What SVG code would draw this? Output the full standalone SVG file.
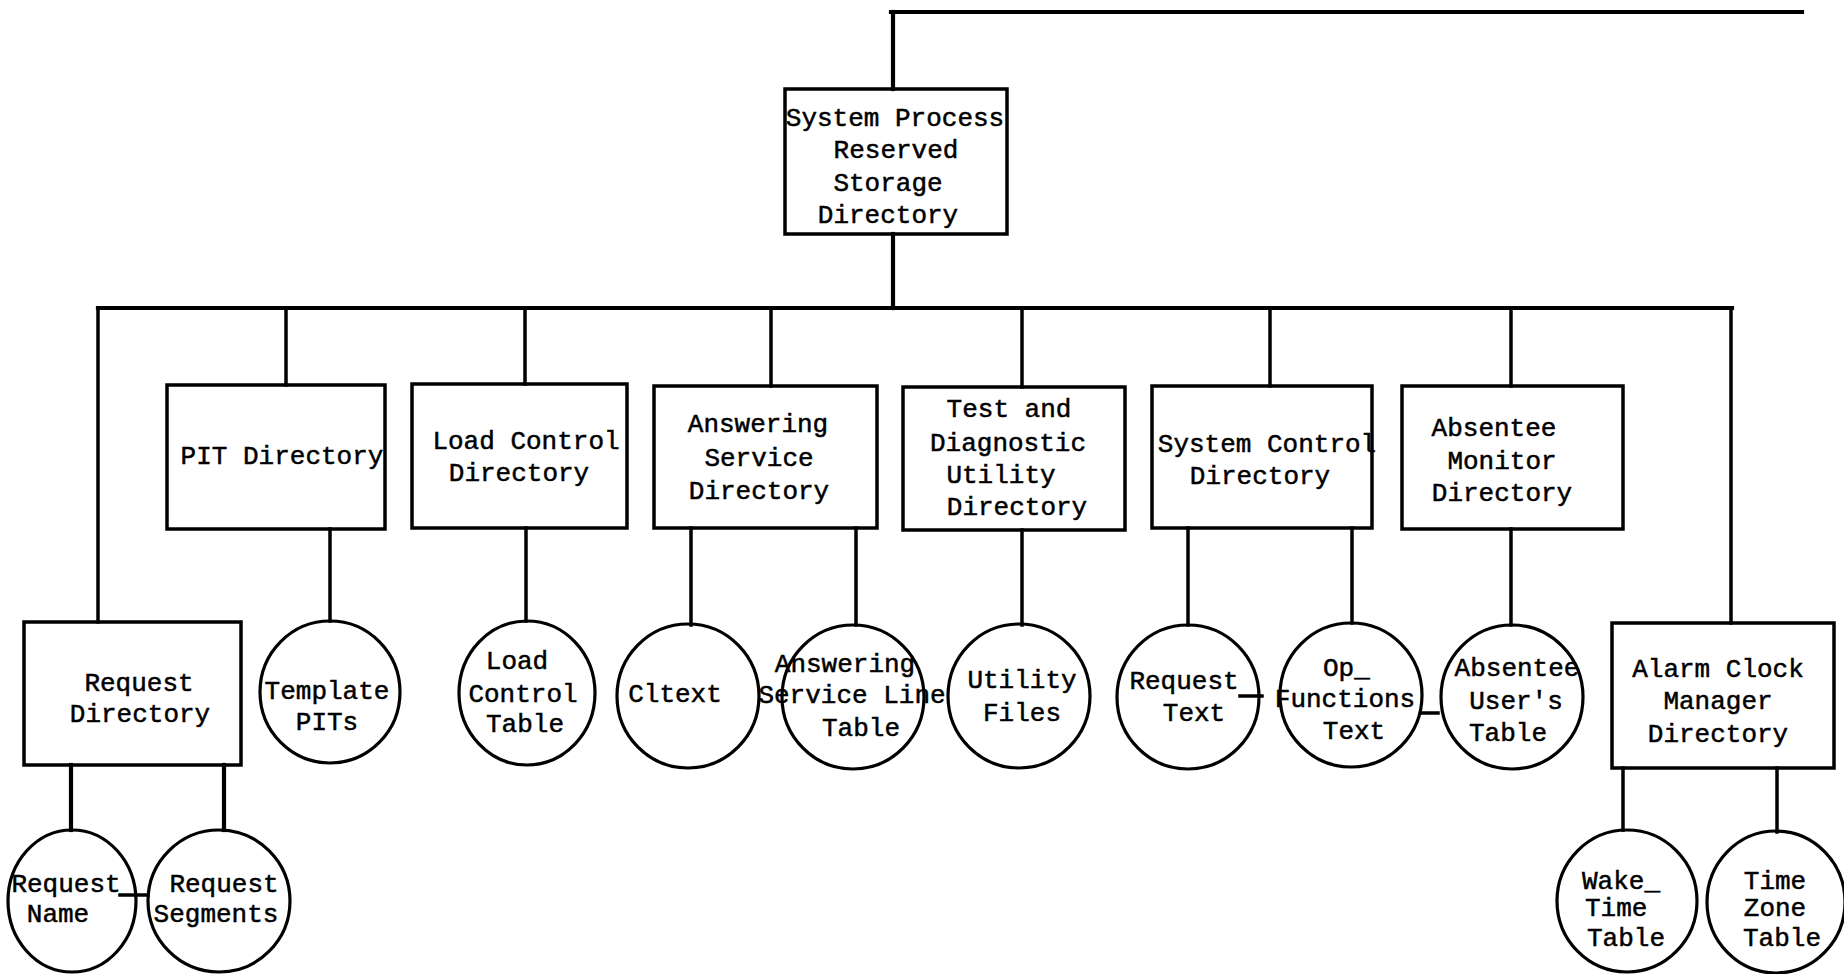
<svg xmlns="http://www.w3.org/2000/svg" width="1844" height="974" viewBox="0 0 1844 974">
<style>
.bg{fill:#ffffff}
.box{fill:none;stroke:#000;stroke-width:3.5}
.circ{fill:none;stroke:#000;stroke-width:3.2}
.ln{stroke:#000;stroke-width:3.5;fill:none;stroke-linecap:square}
.thick{stroke-width:4.2}
text{font-family:"Liberation Mono","Courier New",monospace;font-size:26px;fill:#000;stroke:#000;stroke-width:0.5;text-anchor:middle}
.st{text-anchor:start}
</style>
<rect class="bg" x="0" y="0" width="1844" height="974"/>
<g id="connectors">
<path class="ln thick" d="M891 12 H1802"/>
<path class="ln thick" d="M893 12 V89"/>
<path class="ln thick" d="M893 234 V308"/>
<path class="ln thick" d="M98 308 H1732"/>
<path class="ln" d="M98 308 V622"/>
<path class="ln" d="M286 308 V385"/>
<path class="ln" d="M525 308 V384"/>
<path class="ln" d="M771 308 V386"/>
<path class="ln" d="M1022 308 V387"/>
<path class="ln" d="M1270 308 V386"/>
<path class="ln" d="M1511 308 V386"/>
<path class="ln" d="M1731 308 V623"/>
<path class="ln" d="M330 529 V621"/>
<path class="ln" d="M526 528 V621"/>
<path class="ln" d="M691 528 V625"/>
<path class="ln" d="M856 528 V625"/>
<path class="ln" d="M1022 530 V625"/>
<path class="ln" d="M1188 528 V625"/>
<path class="ln" d="M1352 528 V623"/>
<path class="ln" d="M1511 529 V625"/>
<path class="ln thick" d="M71 765 V830"/>
<path class="ln thick" d="M224 765 V830"/>
<path class="ln" d="M1623 768 V830"/>
<path class="ln" d="M1777 768 V832"/>
<path class="ln" d="M120 895 H148"/>
<path class="ln" d="M1240 696 H1262"/>
<path class="ln" d="M1421 713 H1438"/>
</g>
<g id="n-root"><rect class="box" x="785" y="89" width="222" height="145"/>
<text x="895" y="126">System Process</text><text x="896" y="158">Reserved</text><text x="888" y="191">Storage</text><text x="888" y="223">Directory</text></g>
<g id="n-pit"><rect class="box" x="167" y="385" width="218" height="144"/><text x="282" y="464">PIT Directory</text></g>
<g id="n-load"><rect class="box" x="412" y="384" width="215" height="144"/><text x="526" y="449">Load Control</text><text x="519" y="481">Directory</text></g>
<g id="n-answer"><rect class="box" x="654" y="386" width="223" height="142"/><text x="758" y="432">Answering</text><text x="759" y="466">Service</text><text x="759" y="499">Directory</text></g>
<g id="n-test"><rect class="box" x="903" y="387" width="222" height="143"/><text x="1009" y="417">Test and</text><text x="1008" y="451">Diagnostic</text><text x="1001" y="483">Utility</text><text x="1017" y="515">Directory</text></g>
<g id="n-sysctl"><rect class="box" x="1152" y="386" width="220" height="142"/><text x="1267" y="452">System Control</text><text x="1260" y="484">Directory</text></g>
<g id="n-absmon"><rect class="box" x="1402" y="386" width="221" height="143"/><text x="1494" y="436">Absentee</text><text x="1502" y="469">Monitor</text><text x="1502" y="501">Directory</text></g>
<g id="n-request"><rect class="box" x="24" y="622" width="217" height="143"/><text x="139" y="691">Request</text><text x="140" y="722">Directory</text></g>
<g id="n-alarm"><rect class="box" x="1612" y="623" width="222" height="145"/><text x="1718" y="677">Alarm Clock</text><text x="1718" y="709">Manager</text><text x="1718" y="742">Directory</text></g>
<g id="n-template"><ellipse class="circ" cx="330" cy="692" rx="70" ry="71"/><text x="327" y="699">Template</text><text x="327" y="730">PITs</text></g>
<g id="n-lct"><ellipse class="circ" cx="527" cy="693" rx="68" ry="72"/><text x="517" y="669">Load</text><text x="523" y="702">Control</text><text x="525" y="732">Table</text></g>
<g id="n-cltext"><ellipse class="circ" cx="688" cy="696" rx="71" ry="72"/><text x="675" y="702">Cltext</text></g>
<g id="n-aslt"><ellipse class="circ" cx="853" cy="697" rx="71" ry="72"/><text x="845" y="672">Answering</text><text x="852" y="703">Service Line</text><text x="861" y="736">Table</text></g>
<g id="n-util"><ellipse class="circ" cx="1019" cy="696" rx="71" ry="72"/><text x="1022" y="688">Utility</text><text x="1022" y="721">Files</text></g>
<g id="n-reqtext"><ellipse class="circ" cx="1188" cy="697" rx="71" ry="72"/><text x="1184" y="689">Request</text><text x="1194" y="721">Text</text></g>
<g id="n-opfunc"><ellipse class="circ" cx="1351" cy="695" rx="71" ry="72"/><text class="st" x="1323" y="676">Op_</text><text x="1345" y="707">Functions</text><text x="1354" y="739">Text</text></g>
<g id="n-absuser"><ellipse class="circ" cx="1512" cy="697" rx="71" ry="72"/><text x="1517" y="676">Absentee</text><text x="1516" y="709">User's</text><text x="1508" y="741">Table</text></g>
<g id="n-reqname"><ellipse class="circ" cx="72" cy="901" rx="64" ry="71"/><text x="66" y="892">Request</text><text x="58" y="922">Name</text></g>
<g id="n-reqseg"><ellipse class="circ" cx="219" cy="901" rx="71" ry="71"/><text x="224" y="892">Request</text><text x="216" y="922">Segments</text></g>
<g id="n-wake"><ellipse class="circ" cx="1627" cy="901" rx="70" ry="71"/><text class="st" x="1582" y="889">Wake_</text><text class="st" x="1585" y="916">Time</text><text class="st" x="1587" y="946">Table</text></g>
<g id="n-tz"><ellipse class="circ" cx="1776" cy="902" rx="69" ry="71"/><text x="1775" y="889">Time</text><text x="1775" y="916">Zone</text><text x="1782" y="946">Table</text></g>
</svg>
